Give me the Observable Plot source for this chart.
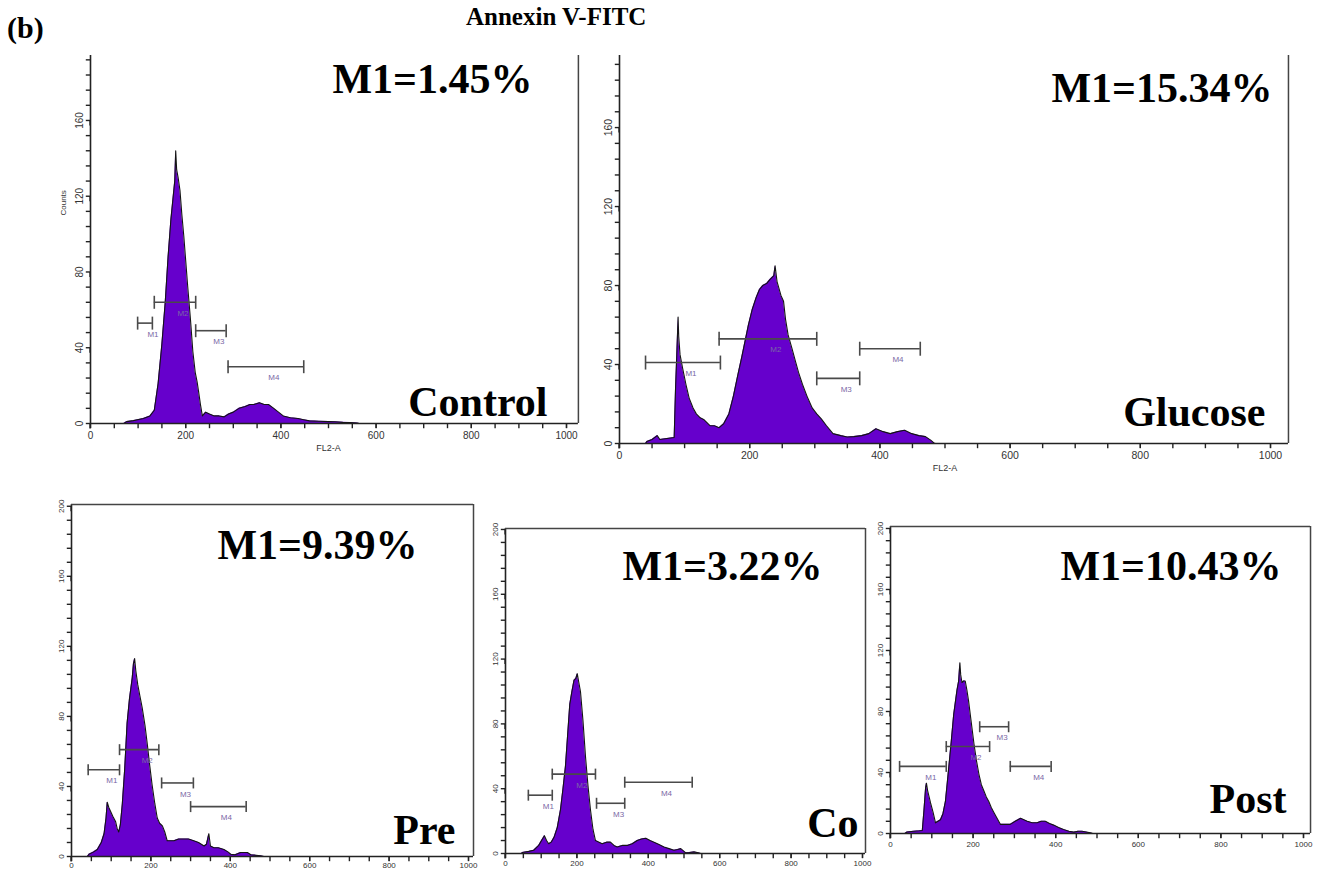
<!DOCTYPE html>
<html><head><meta charset="utf-8">
<script src="https://cdn.jsdelivr.net/npm/d3@7"></script>
<script src="https://cdn.jsdelivr.net/npm/@observablehq/plot@0.6"></script>
<style>
body{margin:0;background:#fff;}
#root{position:relative;width:1322px;height:871px;overflow:hidden;background:#fff;}
.panel{position:absolute;}
.serif{position:absolute;font-family:"Liberation Serif","Times New Roman",serif;font-weight:bold;color:#000;white-space:nowrap;line-height:1;}
</style></head><body><div id="root"></div>
<script>
// ---------------- DATA ----------------
const xTicks = [0, 200, 400, 600, 800, 1000];
const yTicks = [0, 40, 80, 120, 160, 200];
const conditions = ["Control", "Glucose", "Pre", "Co", "Post"];
const m1Labels = ["M1=1.45%", "M1=15.34%", "M1=9.39%", "M1=3.22%", "M1=10.43%"];

const controlFL2 =    [70,76,90,111,125,134,142,150,157,163,169,173,177,179,181,184,188,192,196,200,204,210,215,220,224,227,231,235,242,250,260,270,281,290,300,312,325,335,343,355,365,374,385,395,405,420,436,448,460,480,500,514,530,545,560,565];
const controlCounts = [0,1,1.5,2.6,4,7,21,42,64,88,108,118,128,144,134,130,123,110,99,86,73,55,38,27,22,17,10,4,6,5,4,4,3.5,5,6,8,9,10,10,11,10,10,8,6,4,3,2.6,2,1.4,1.2,1,0.9,0.6,0.5,0.3,0];

const glucoseFL2 =    [40,42,50,58,62,73,84,86,88,90,91,93,97,102,107,113,118,124,130,139,146,153,160,168,175,182,188,193,198,204,210,215,220,226,231,237,239,242,248,252,255,259,265,270,275,281,288,296,303,310,318,328,340,350,360,372,383,394,405,416,427,438,449,460,470,478,483,485];
const glucoseCounts = [0,1,2,4,2,2.5,3,27,45,64,54,45,38,30,23,18,15,13,12,9,9,8,10,15,24,35,44,52,60,68,74,78,80,81,83,85,90,82,75,72,63,55,48,42,36,30,24,18,15,12.5,9,5,4,3.3,3.5,4,5,7.5,6,5,6,6.7,5,4,3.5,1.7,0.3,0];

const preFL2 =    [40,44,55,65,75,82,87,90,94,98,104,111,115,119,123,128,134,140,146,153,156,159,162,167,172,178,185,191,197,203,210,216,222,229,235,241,250,258,270,283,295,308,320,334,340,346,350,359,370,384,395,401,412,426,443,452,460,476,485];
const preCounts = [0,1.3,2.5,4,8,13,22,31,28,26,23,20,16,14,18,30,50,76,90,102,110,113,106,98,92,85,75,64,52,41,30,22,19,17.5,14,9,9,9,10,10,10,9,8,6,7,13,6,5,5,4,2.5,1.3,1,2.3,2.3,1,0.8,0.4,0];

const coFL2 =    [45,47,65,79,93,101,109,115,121,128,136,145,154,161,168,174,180,186,192,197,201,205,210,217,224,231,238,245,252,262,271,283,294,304,313,327,341,355,369,381,393,405,416,430,444,458,472,482,491,505,515,528,540,547];
const coCounts = [0,0.6,1.3,2,5,8,11,8,6,7,10,16,27,40,54,73,92,100,107,108,111,106,100,82,60,42,27,15,8,7,6,7,7,5,4,5,5,6,8,9,9.4,8,7,5.5,4,3,2,2.5,3,0.4,0.6,1,0.5,0];

const postFL2 =    [35,40,56,70,77,81,85,87,90,97,103,109,115,121,127,133,141,147,153,157,161,165,168,170,173,177,181,185,189,195,202,208,214,220,226,232,238,244,250,258,266,278,290,302,315,323,331,343,355,365,375,385,395,407,419,432,444,454,464,474,484,490];
const postCounts = [0,1,1.5,1.8,2,15,30,33,28,20,14,7,8,9,13,21,43,60,78,86,94,100,112,104,99,100,100,94,87,74,59,48,39,32,28,24,21,17,14,10,6,6,6,8,10,9,8,7,7,8,8,6.5,5.5,4,2.6,1.5,0.9,1.5,1.5,1,0.4,0];

const controlMarkers = [{name:"M1",from:99,to:130,level:53},{name:"M2",from:134,to:221,level:64},{name:"M3",from:221,to:285,level:49},{name:"M4",from:289,to:448,level:30}];
const glucoseMarkers = [{name:"M1",from:40,to:155,level:41},{name:"M2",from:153,to:303,level:53},{name:"M3",from:303,to:369,level:33},{name:"M4",from:369,to:462,level:48}];
const preMarkers =     [{name:"M1",from:42,to:121,level:49.5},{name:"M2",from:121,to:220,level:61},{name:"M3",from:227,to:307,level:42},{name:"M4",from:300,to:440,level:28.5}];
const coMarkers =      [{name:"M1",from:64,to:131,level:36},{name:"M2",from:131,to:252,level:49},{name:"M3",from:255,to:334,level:31},{name:"M4",from:334,to:523,level:44}];
const postMarkers =    [{name:"M1",from:22,to:135,level:44},{name:"M2",from:135,to:240,level:57},{name:"M3",from:216,to:286,level:70},{name:"M4",from:290,to:389,level:44}];

// ---------------- LAYOUT / STYLE ----------------
const PURPLE = "#6600cc";
const layouts = [
  {left:0,   top:40,  width:600, height:430, mL:90, mR:34, mT:15, mB:47, yTop:194.3, borderX:1025,  topBorder:false, cap:6.5, tickFont:10, tickPad:3, m1:[-34,37], cond:[-19,-8], fl2:true, counts:true},
  {left:580, top:40,  width:730, height:450, mL:39, mR:40, mT:15, mB:47, yTop:196.5, borderX:1027.6, topBorder:false, cap:7, tickFont:10.5, tickPad:3, m1:[2,46], cond:[-5,-18], fl2:true, counts:false},
  {left:10,  top:495, width:480, height:376, mL:61, mR:22, mT:9,  mB:15, yTop:201,   borderX:1012.6, topBorder:true, cap:5.5, tickFont:8, tickPad:1, m1:[-51,54], cond:[-13,-13], fl2:false, counts:false},
  {left:470, top:510, width:410, height:361, mL:35, mR:18, mT:18, mB:18, yTop:200.6, borderX:1008.4, topBorder:true, cap:5.5, tickFont:8, tickPad:2, m1:[-40,51], cond:[-4,-17], fl2:false, counts:false},
  {left:855, top:510, width:467, height:361, mL:35, mR:19, mT:16, mB:38, yTop:201.3, borderX:1017,  topBorder:true, cap:5.5, tickFont:8, tickPad:3, m1:[-22,53], cond:[-17,-21], fl2:false, counts:false}
];
const panelData = [
  [controlFL2, controlCounts, controlMarkers],
  [glucoseFL2, glucoseCounts, glucoseMarkers],
  [preFL2, preCounts, preMarkers],
  [coFL2, coCounts, coMarkers],
  [postFL2, postCounts, postMarkers]
];

const vbar = {draw(ctx, size) { const r = Math.sqrt(size / Math.PI); ctx.moveTo(0, -r); ctx.lineTo(0, r); }};
const hbar = {draw(ctx, size) { const r = Math.sqrt(size / Math.PI); ctx.moveTo(-r, 0); ctx.lineTo(r, 0); }};
const serif = "Liberation Serif, Times New Roman, serif";

const root = document.getElementById("root");

panelData.forEach(([fl2, counts, markers], i) => {
  const L = layouts[i];
  const rows = fl2.map((x, k) => ({x, y: counts[k]}));
  const yMinor = d3.range(0, L.yTop + 0.01, 8);
  const xMinor = d3.range(0, L.borderX, 50);
  const marks = [
    Plot.areaY(rows, {x: "x", y: "y", fill: PURPLE, curve: "linear"}),
    Plot.lineY(rows, {x: "x", y: "y", stroke: "#141414", strokeWidth: 1.1}),
    // minor ticks (short dashes just outside the axis lines)
    Plot.dot(xMinor, {x: d => d, y: 0, symbol: vbar, r: 2.2, dy: 2.5, fill: "none", stroke: "#222", strokeWidth: 1.4}),
    Plot.dot(yMinor, {x: 0, y: d => d, symbol: hbar, r: 2.2, dx: -2.5, fill: "none", stroke: "#222", strokeWidth: 1.4}),
    Plot.axisX(xTicks, {tickSize: 5, tickPadding: L.tickPad, tickFormat: d => String(d), fontSize: L.tickFont, fill: "#333", stroke: "#222", strokeWidth: 1.3, label: null}),
    Plot.axisY(yTicks.filter(v => v <= L.yTop), {tickSize: 5, tickPadding: 3, tickFormat: d => String(d), rotate: -90, textAnchor: "middle", lineAnchor: "bottom", fontSize: L.tickFont, fill: "#333", stroke: "#222", strokeWidth: 1.3, label: null}),
    Plot.ruleY([0], {x1: 0, x2: L.borderX, stroke: "#222", strokeWidth: 1.6}),
    Plot.ruleX([0], {y1: 0, y2: L.yTop, stroke: "#222", strokeWidth: 1.6}),
    Plot.ruleX([L.borderX], {y1: 0, y2: L.yTop, stroke: "#444", strokeWidth: 1.5}),
    Plot.ruleY(markers, {y: "level", x1: "from", x2: "to", stroke: "#4a4a4a", strokeWidth: 1.6}),
    Plot.dot(markers, {x: "from", y: "level", symbol: vbar, r: L.cap, fill: "none", stroke: "#4a4a4a", strokeWidth: 1.6}),
    Plot.dot(markers, {x: "to", y: "level", symbol: vbar, r: L.cap, fill: "none", stroke: "#4a4a4a", strokeWidth: 1.6}),
    Plot.text(markers, {x: d => (d.from + d.to) / 2, y: "level", text: "name", dx: 8, dy: 11, fontSize: 8, fill: "#7a68a6"}),
    Plot.text([m1Labels[i]], {text: d => d, frameAnchor: "top-right", textAnchor: "end", lineAnchor: "bottom", dx: L.m1[0], dy: L.m1[1], fontFamily: serif, fontWeight: "bold", fontSize: 42, fill: "#000"}),
    Plot.text([conditions[i]], {text: d => d, frameAnchor: "bottom-right", textAnchor: "end", lineAnchor: "bottom", dx: L.cond[0], dy: L.cond[1], fontFamily: serif, fontWeight: "bold", fontSize: 42, fill: "#000"})
  ];
  if (L.topBorder) marks.push(Plot.ruleY([L.yTop], {x1: 0, x2: L.borderX, stroke: "#444", strokeWidth: 1.5}));
  if (L.fl2) marks.push(Plot.text(["FL2-A"], {text: d => d, frameAnchor: "bottom", dy: 27, fontSize: 9, fill: "#333"}));
  if (L.counts) marks.push(Plot.text(["Counts"], {text: d => d, frameAnchor: "left", rotate: -90, dx: -27, dy: -24, fontSize: 8, fill: "#333"}));

  const chart = Plot.plot({
    width: L.width, height: L.height,
    marginLeft: L.mL, marginRight: L.mR, marginTop: L.mT, marginBottom: L.mB,
    x: {domain: [0, 1000]},
    y: {domain: [0, L.yTop]},
    style: {background: "transparent", overflow: "visible", fontFamily: "Liberation Sans, Arial, sans-serif", maxWidth: "none"},
    marks
  });
  const wrap = document.createElement("div");
  wrap.className = "panel";
  wrap.style.left = L.left + "px";
  wrap.style.top = L.top + "px";
  wrap.appendChild(chart);
  root.appendChild(wrap);
});

// figure-level labels
const b = document.createElement("div");
b.className = "serif"; b.textContent = "(b)";
b.style.left = "7px"; b.style.top = "13px"; b.style.fontSize = "30px";
root.appendChild(b);
const t = document.createElement("div");
t.className = "serif"; t.textContent = "Annexin V-FITC";
t.style.left = "466px"; t.style.top = "4px"; t.style.fontSize = "25px";
root.appendChild(t);
</script></body></html>
